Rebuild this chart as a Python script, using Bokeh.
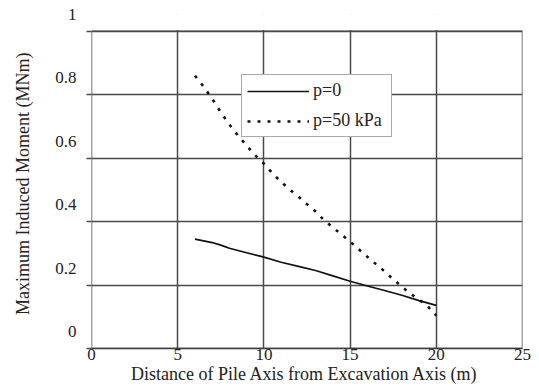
from bokeh.plotting import figure
from bokeh.models import (BoxAnnotation, FixedTicker, Legend, LegendItem,
                          LinearAxis, Range1d)
from bokeh.embed import file_html
from bokeh.resources import INLINE

# Maximum induced moment in the pile vs. distance of the pile axis from the excavation axis
dist_p0 = [6, 7, 7.5, 8, 8.5, 9, 10, 11, 12, 13, 14, 15, 16, 17, 18, 19, 20]
moment_p0 = [0.345, 0.334, 0.326, 0.316, 0.309, 0.302, 0.288, 0.272, 0.259,
             0.246, 0.229, 0.212, 0.197, 0.183, 0.168, 0.151, 0.136]

dist_p50 = [6, 6.5, 7, 7.5, 8, 8.5, 9, 9.5, 10, 10.5, 11, 11.5, 12, 12.5, 13,
            13.5, 14, 14.5, 15, 15.5, 16, 16.5, 17, 17.5, 18, 18.5, 19, 19.5, 20]
moment_p50 = [0.860, 0.826, 0.787, 0.745, 0.706, 0.671, 0.640, 0.609, 0.583,
              0.552, 0.525, 0.501, 0.479, 0.455, 0.432, 0.404, 0.382, 0.359,
              0.337, 0.313, 0.289, 0.266, 0.243, 0.218, 0.195, 0.173, 0.154,
              0.133, 0.104]

series_labels = ["p=0", "p=50 kPa"]
x_ticks = [0, 5, 10, 15, 20, 25]
y_ticks = [0, 0.2, 0.4, 0.6, 0.8, 1.0]
y_tick_labels = ["0", "0.2", "0.4", "0.6", "0.8", "1"]

FONT = "Liberation Serif"
GRID = "#4a4a4a"
TEXT = "#222222"
LABEL_LIFT = 0.053  # tick numbers sit a little above their grid lines

x_lo, x_hi = x_ticks[0], x_ticks[-1]
y_lo, y_hi = y_ticks[0], y_ticks[-1]

p = figure(width=539, height=389, output_backend="svg", toolbar_location=None,
           x_range=Range1d(x_lo, x_hi), y_range=Range1d(y_lo, y_hi + LABEL_LIFT),
           min_border_left=91, min_border_right=17, min_border_top=14,
           min_border_bottom=41)
p.background_fill_color = "white"
p.border_fill_color = "white"
p.outline_line_color = None

# grid
p.xgrid.ticker = FixedTicker(ticks=x_ticks)
p.ygrid.ticker = FixedTicker(ticks=y_ticks)
for g in (p.xgrid, p.ygrid):
    g.grid_line_color = GRID
    g.grid_line_width = 1.5
    g.grid_line_alpha = 1.0

# blank strip above the top grid line, then the frame box
p.add_layout(BoxAnnotation(left=x_lo - 1, right=x_hi + 1,
                           bottom=y_hi + 0.004, top=y_hi + LABEL_LIFT + 0.05,
                           fill_color="white", fill_alpha=1.0, line_alpha=0))
p.add_layout(BoxAnnotation(left=x_lo, right=x_hi, bottom=y_lo, top=y_hi,
                           fill_alpha=0, line_color=GRID, line_width=1.5,
                           line_alpha=1.0))

# x axis
xa = p.xaxis[0]
xa.ticker = FixedTicker(ticks=x_ticks)
xa.axis_label = "Distance of Pile Axis from Excavation Axis  (m)"
xa.axis_label_text_font = FONT
xa.axis_label_text_font_style = "normal"
xa.axis_label_text_font_size = "18px"
xa.axis_label_text_color = TEXT
xa.axis_label_standoff = 1
xa.major_label_text_font = FONT
xa.major_label_text_font_size = "17px"
xa.major_label_text_color = TEXT
xa.major_label_standoff = 0
xa.major_tick_out = 0
xa.major_tick_in = 0
xa.minor_tick_out = 0
xa.minor_tick_in = 0
xa.axis_line_color = "#333333"
xa.axis_line_width = 1.5

# inner y axis: tick marks only
ya = p.yaxis[0]
ya.ticker = FixedTicker(ticks=y_ticks)
ya.major_label_overrides = {t: "" for t in y_ticks}
ya.major_label_standoff = 0
ya.major_tick_out = 5
ya.major_tick_in = 0
ya.minor_tick_out = 0
ya.minor_tick_in = 0
ya.major_tick_line_color = GRID
ya.major_tick_line_width = 1.5
ya.axis_line_color = None
ya.bounds = (y_lo, y_hi)

# outer y axis: the numbers and the title
p.extra_y_ranges = {"labels": Range1d(y_lo - LABEL_LIFT, y_hi)}
ylab = LinearAxis(y_range_name="labels",
                  ticker=FixedTicker(ticks=y_ticks),
                  major_label_overrides=dict(zip(y_ticks, y_tick_labels)),
                  axis_label="Maximum Induced Moment  (MNm)",
                  axis_label_text_font=FONT, axis_label_text_font_style="normal",
                  axis_label_text_font_size="18px", axis_label_text_color=TEXT,
                  axis_label_standoff=19,
                  major_label_text_font=FONT, major_label_text_font_size="17px",
                  major_label_text_color=TEXT, major_label_standoff=10,
                  major_tick_out=0, major_tick_in=0,
                  minor_tick_out=0, minor_tick_in=0,
                  axis_line_color=None, major_tick_line_color=None,
                  minor_tick_line_color=None)
p.add_layout(ylab, "left")

# curves
r0 = p.line(dist_p0, moment_p0, line_color="#111111", line_width=1.7)
r50 = p.line(dist_p50, moment_p50, line_color="#111111", line_width=2.6,
             line_dash="3 7")

legend = Legend(items=[LegendItem(label=series_labels[0], renderers=[r0]),
                       LegendItem(label=series_labels[1], renderers=[r50])],
                location=(150, 211), orientation="vertical",
                padding=5, spacing=9, margin=0,
                glyph_width=62, glyph_height=18, label_height=18,
                label_width=73, label_standoff=4,
                label_text_font=FONT, label_text_font_size="18px",
                label_text_color=TEXT,
                border_line_color="#555555", border_line_width=1.2,
                background_fill_color="white", background_fill_alpha=1.0)
p.add_layout(legend)

open("out.html", "w").write(file_html(p, INLINE))
